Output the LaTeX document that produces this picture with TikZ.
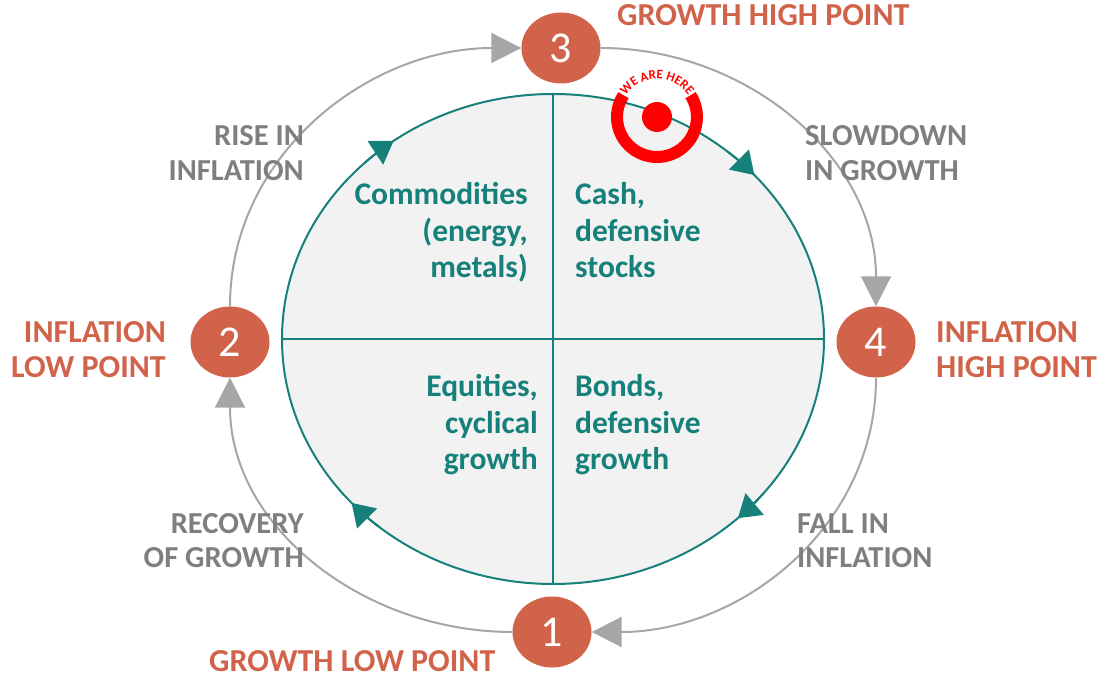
\documentclass[tikz,border=0pt]{standalone}
\usepackage{fontspec}
\setmainfont{Carlito}
\usetikzlibrary{arrows.meta,calc,positioning,shapes.geometric,decorations.text}
\definecolor{rust}{HTML}{D0634A}
\definecolor{teal}{HTML}{16807A}
\definecolor{stone}{HTML}{7F7F7F}
\definecolor{wire}{HTML}{A6A6A6}
\definecolor{pane}{HTML}{F2F2F2}
\definecolor{alert}{HTML}{FF0000}

\begin{document}
\begin{tikzpicture}[x=1pt,y=1pt,
  phase/.style={ellipse,fill=rust,text=white,minimum width=79pt,minimum height=71pt,inner sep=0pt,font=\fontsize{44}{44}\selectfont},
  turn/.style={font=\bfseries\fontsize{32}{34.5}\selectfont,text=rust,inner sep=0pt},
  drift/.style={font=\bfseries\fontsize{30.5}{34.5}\selectfont,text=stone,inner sep=0pt},
  asset/.style={font=\bfseries\fontsize{31.5}{36.5}\selectfont,text=teal,inner sep=0pt},
  wheel/.style={wire,line width=2pt,-{Triangle[length=30pt,width=30pt]}}]
\useasboundingbox (0,0) rectangle (1099,677);
% inner board with the four quadrants
\node[ellipse,draw=teal,fill=pane,line width=2pt,minimum width=542pt,minimum height=490pt,inner sep=0pt] (board) at (553,338) {};
\draw[teal,line width=2pt] (board.west) -- (board.east) (board.north) -- (board.south);
\foreach \a in {126,42,-47,-138}
  \draw[teal,line width=2pt,-{Triangle[length=22pt,width=28pt]}] ($(board.center)+({\a+8}:271 and 245)$) arc[start angle=\a+8,end angle=\a,x radius=271,y radius=245];
% turning points
\node[phase] (n3) at (561,629) {3};
\node[phase] (n4) at (876,335) {4};
\node[phase] (n1) at (552,45) {1};
\node[phase] (n2) at (230,335) {2};
\draw[wheel] (n2.north) to[out=90,in=180] (n3.west);
\draw[wheel] (n3.east) to[out=0,in=90] (n4.north);
\draw[wheel] (n4.south) to[out=-90,in=0] (n1.east);
\draw[wheel] (n1.west) to[out=180,in=-90] (n2.south);
% marker
\coordinate (here) at (657,560);
\fill[alert] (here) circle (15);
\draw[alert,line width=12pt] (here) ++(147:40) arc[start angle=147,end angle=393,radius=40];
\path[decorate,decoration={text along path,text align=center,text={|\bfseries\fontsize{13}{13}\selectfont\color{alert}|WE ARE HERE}}] (here) ++(152:38) arc[start angle=152,end angle=28,radius=38];
% labels
\node[turn,anchor=base west] (peak) at (617,651) {GROWTH HIGH POINT};
\node[turn,anchor=base west] (trough) at (209,6) {GROWTH LOW POINT};
\node[turn,align=right,anchor=base east] (inflow) at (166,299.5) {INFLATION\\LOW POINT};
\node[turn,align=left,anchor=base west] (infhigh) at (936,299.5) {INFLATION\\HIGH POINT};
\node[drift,align=left,anchor=base west] (slow) at (805,496.5) {SLOWDOWN\\IN GROWTH};
\node[drift,align=right,anchor=base east] (rise) at (304,496.5) {RISE IN\\INFLATION};
\node[drift,align=right,anchor=base east] (recover) at (304,109.5) {RECOVERY\\OF GROWTH};
\node[drift,align=left,anchor=base west] (fall) at (797,109.5) {FALL IN\\INFLATION};
\node[asset,align=right,anchor=base east] (commod) at (528,399) {Commodities\\(energy,\\metals)};
\node[asset,align=left,anchor=base west] (cash) at (575,399) {Cash,\\defensive\\stocks};
\node[asset,align=right,anchor=base east] (equity) at (538,207) {Equities,\\cyclical\\growth};
\node[asset,align=left,anchor=base west] (bonds) at (575,207) {Bonds,\\defensive\\growth};
\end{tikzpicture}
\end{document}
